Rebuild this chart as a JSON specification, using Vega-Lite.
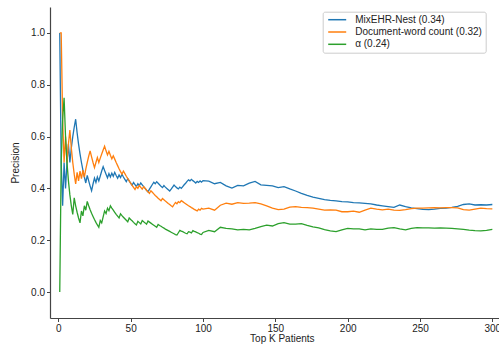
{
"$schema": "https://vega.github.io/schema/vega-lite/v6.json",
"width": 449, "height": 311,
"autosize": {"type": "none"},
"padding": {"left": 50, "top": 7, "right": 0, "bottom": 29},
"background": "white",
"data": {"values": [
{"k":1,"a":1,"b":1,"c":0},{"k":2,"a":0.5,"b":1,"c":0.5},{"k":3,"a":0.333,"b":0.667,"c":0.667},{"k":4,"a":0.5,"b":0.5,"c":0.75},{"k":5,"a":0.4,"b":0.6,"c":0.6},
{"k":6,"a":0.5,"b":0.5,"c":0.5},{"k":7,"a":0.571,"b":0.571,"c":0.429},{"k":8,"a":0.5,"b":0.625,"c":0.375},{"k":9,"a":0.556,"b":0.556,"c":0.333},{"k":10,"a":0.6,"b":0.5,"c":0.3},
{"k":11,"a":0.636,"b":0.455,"c":0.364},{"k":12,"a":0.667,"b":0.417,"c":0.333},{"k":13,"a":0.615,"b":0.462,"c":0.308},{"k":14,"a":0.571,"b":0.429,"c":0.286},{"k":15,"a":0.533,"b":0.467,"c":0.267},
{"k":16,"a":0.5,"b":0.438,"c":0.313},{"k":17,"a":0.471,"b":0.471,"c":0.294},{"k":18,"a":0.444,"b":0.444,"c":0.333},{"k":19,"a":0.421,"b":0.474,"c":0.316},{"k":20,"a":0.45,"b":0.5,"c":0.35},
{"k":21,"a":0.429,"b":0.524,"c":0.333},{"k":22,"a":0.409,"b":0.545,"c":0.318},{"k":23,"a":0.391,"b":0.522,"c":0.304},{"k":24,"a":0.417,"b":0.5,"c":0.292},{"k":25,"a":0.44,"b":0.48,"c":0.28},
{"k":26,"a":0.423,"b":0.5,"c":0.269},{"k":27,"a":0.444,"b":0.519,"c":0.259},{"k":28,"a":0.429,"b":0.5,"c":0.25},{"k":29,"a":0.448,"b":0.517,"c":0.276},{"k":30,"a":0.467,"b":0.533,"c":0.267},
{"k":31,"a":0.484,"b":0.548,"c":0.29},{"k":32,"a":0.469,"b":0.563,"c":0.313},{"k":33,"a":0.455,"b":0.545,"c":0.303},{"k":34,"a":0.441,"b":0.529,"c":0.324},{"k":35,"a":0.457,"b":0.543,"c":0.314},
{"k":36,"a":0.444,"b":0.528,"c":0.333},{"k":37,"a":0.459,"b":0.514,"c":0.324},{"k":38,"a":0.447,"b":0.526,"c":0.316},{"k":39,"a":0.462,"b":0.513,"c":0.308},{"k":40,"a":0.45,"b":0.5,"c":0.3},
{"k":41,"a":0.439,"b":0.488,"c":0.293},{"k":42,"a":0.452,"b":0.476,"c":0.286},{"k":43,"a":0.442,"b":0.465,"c":0.302},{"k":44,"a":0.455,"b":0.455,"c":0.295},{"k":45,"a":0.444,"b":0.467,"c":0.289},
{"k":46,"a":0.435,"b":0.457,"c":0.283},{"k":47,"a":0.426,"b":0.447,"c":0.277},{"k":48,"a":0.438,"b":0.438,"c":0.271},{"k":49,"a":0.429,"b":0.429,"c":0.286},{"k":50,"a":0.42,"b":0.42,"c":0.28},
{"k":51,"a":0.412,"b":0.412,"c":0.275},{"k":52,"a":0.423,"b":0.404,"c":0.269},{"k":53,"a":0.415,"b":0.396,"c":0.264},{"k":54,"a":0.407,"b":0.407,"c":0.259},{"k":55,"a":0.418,"b":0.4,"c":0.273},
{"k":56,"a":0.411,"b":0.411,"c":0.268},{"k":57,"a":0.421,"b":0.404,"c":0.263},{"k":58,"a":0.414,"b":0.397,"c":0.276},{"k":59,"a":0.407,"b":0.407,"c":0.271},{"k":60,"a":0.4,"b":0.4,"c":0.267},
{"k":61,"a":0.393,"b":0.393,"c":0.262},{"k":62,"a":0.387,"b":0.387,"c":0.274},{"k":63,"a":0.397,"b":0.381,"c":0.27},{"k":64,"a":0.406,"b":0.391,"c":0.266},{"k":65,"a":0.415,"b":0.385,"c":0.262},
{"k":66,"a":0.424,"b":0.379,"c":0.258},{"k":67,"a":0.418,"b":0.373,"c":0.254},{"k":68,"a":0.426,"b":0.368,"c":0.25},{"k":69,"a":0.42,"b":0.362,"c":0.261},{"k":70,"a":0.414,"b":0.357,"c":0.257},
{"k":71,"a":0.408,"b":0.352,"c":0.254},{"k":72,"a":0.403,"b":0.361,"c":0.25},{"k":73,"a":0.411,"b":0.356,"c":0.247},{"k":74,"a":0.405,"b":0.351,"c":0.243},{"k":75,"a":0.4,"b":0.347,"c":0.24},
{"k":76,"a":0.395,"b":0.342,"c":0.237},{"k":77,"a":0.39,"b":0.338,"c":0.234},{"k":78,"a":0.397,"b":0.333,"c":0.231},{"k":79,"a":0.405,"b":0.329,"c":0.228},{"k":80,"a":0.413,"b":0.338,"c":0.225},
{"k":81,"a":0.407,"b":0.346,"c":0.222},{"k":82,"a":0.402,"b":0.341,"c":0.22},{"k":83,"a":0.398,"b":0.349,"c":0.229},{"k":84,"a":0.405,"b":0.345,"c":0.238},{"k":85,"a":0.4,"b":0.353,"c":0.235},
{"k":86,"a":0.407,"b":0.349,"c":0.233},{"k":87,"a":0.414,"b":0.345,"c":0.23},{"k":88,"a":0.42,"b":0.341,"c":0.227},{"k":89,"a":0.427,"b":0.337,"c":0.225},{"k":90,"a":0.433,"b":0.333,"c":0.233},
{"k":91,"a":0.429,"b":0.33,"c":0.231},{"k":92,"a":0.435,"b":0.326,"c":0.228},{"k":93,"a":0.43,"b":0.323,"c":0.237},{"k":94,"a":0.426,"b":0.319,"c":0.234},{"k":95,"a":0.421,"b":0.316,"c":0.232},
{"k":96,"a":0.427,"b":0.313,"c":0.229},{"k":97,"a":0.423,"b":0.32,"c":0.227},{"k":98,"a":0.429,"b":0.316,"c":0.224},{"k":99,"a":0.424,"b":0.323,"c":0.222},{"k":100,"a":0.43,"b":0.32,"c":0.23},
{"k":104,"a":0.428,"b":0.324,"c":0.238},{"k":108,"a":0.418,"b":0.316,"c":0.233},{"k":112,"a":0.423,"b":0.335,"c":0.25},{"k":116,"a":0.41,"b":0.343,"c":0.246},{"k":120,"a":0.401,"b":0.339,"c":0.244},
{"k":124,"a":0.412,"b":0.345,"c":0.24},{"k":128,"a":0.41,"b":0.342,"c":0.242},{"k":132,"a":0.42,"b":0.343,"c":0.24},{"k":136,"a":0.427,"b":0.345,"c":0.246},{"k":140,"a":0.414,"b":0.34,"c":0.253},
{"k":144,"a":0.412,"b":0.333,"c":0.258},{"k":148,"a":0.41,"b":0.324,"c":0.255},{"k":152,"a":0.403,"b":0.318,"c":0.264},{"k":156,"a":0.407,"b":0.32,"c":0.268},{"k":160,"a":0.398,"b":0.328,"c":0.262},
{"k":164,"a":0.39,"b":0.33,"c":0.262},{"k":168,"a":0.381,"b":0.327,"c":0.264},{"k":172,"a":0.373,"b":0.326,"c":0.257},{"k":176,"a":0.366,"b":0.324,"c":0.252},{"k":180,"a":0.362,"b":0.32,"c":0.248},
{"k":184,"a":0.357,"b":0.316,"c":0.241},{"k":188,"a":0.354,"b":0.317,"c":0.236},{"k":192,"a":0.352,"b":0.316,"c":0.233},{"k":196,"a":0.349,"b":0.31,"c":0.24},{"k":200,"a":0.348,"b":0.31,"c":0.246},
{"k":204,"a":0.345,"b":0.312,"c":0.244},{"k":208,"a":0.344,"b":0.308,"c":0.244},{"k":212,"a":0.342,"b":0.316,"c":0.24},{"k":216,"a":0.34,"b":0.324,"c":0.244},{"k":220,"a":0.336,"b":0.32,"c":0.242},
{"k":224,"a":0.333,"b":0.317,"c":0.242},{"k":228,"a":0.33,"b":0.32,"c":0.247},{"k":232,"a":0.327,"b":0.316,"c":0.249},{"k":236,"a":0.336,"b":0.315,"c":0.244},{"k":240,"a":0.33,"b":0.318,"c":0.24},
{"k":244,"a":0.325,"b":0.322,"c":0.246},{"k":248,"a":0.322,"b":0.324,"c":0.249},{"k":252,"a":0.319,"b":0.324,"c":0.248},{"k":256,"a":0.318,"b":0.325,"c":0.248},{"k":260,"a":0.32,"b":0.326,"c":0.247},
{"k":264,"a":0.323,"b":0.325,"c":0.248},{"k":268,"a":0.324,"b":0.326,"c":0.247},{"k":272,"a":0.327,"b":0.326,"c":0.246},{"k":276,"a":0.331,"b":0.325,"c":0.244},{"k":280,"a":0.338,"b":0.318,"c":0.242},
{"k":284,"a":0.34,"b":0.316,"c":0.239},{"k":288,"a":0.336,"b":0.32,"c":0.237},{"k":292,"a":0.337,"b":0.324,"c":0.236},{"k":296,"a":0.336,"b":0.322,"c":0.238},{"k":300,"a":0.338,"b":0.321,"c":0.242}
]},
"transform": [{"fold": ["a", "b", "c"], "as": ["series", "p"]}],
"mark": {"type": "line", "strokeWidth": 1.3, "clip": true},
"encoding": {
  "x": {"field": "k", "type": "quantitative",
        "scale": {"domain": [-5.74, 304.6], "nice": false, "zero": false},
        "axis": {"values": [0, 50, 100, 150, 200, 250, 300], "title": "Top K Patients", "titleX": 231.8, "titlePadding": 0}},
  "y": {"field": "p", "type": "quantitative",
        "scale": {"domain": [-0.1, 1.1], "nice": false},
        "axis": {"values": [0, 0.2, 0.4, 0.6, 0.8, 1.0], "format": ".1f", "title": "Precision", "titlePadding": 10}},
  "color": {"field": "series", "type": "nominal",
        "scale": {"domain": ["a", "b", "c"], "range": ["#1f77b4", "#ff7f0e", "#2ca02c"]},
        "legend": {"title": null, "orient": "none", "legendX": 272.7, "legendY": 4.7,
                   "labelExpr": "datum.label == 'a' ? 'MixEHR-Nest (0.34)' : datum.label == 'b' ? 'Document-word count (0.32)' : 'α (0.24)'",
                   "symbolType": "M-3,0L3,0", "symbolSize": 36, "symbolStrokeWidth": 1.5, "symbolOffset": 6.5,
                   "labelOffset": 13, "rowPadding": 2.3, "padding": 3,
                   "labelFont": "Liberation Sans", "labelFontSize": 10, "labelColor": "#222",
                   "fillColor": "rgba(255,255,255,0.8)", "strokeColor": "#cccccc", "cornerRadius": 2}}
},
"config": {
  "view": {"stroke": null},
  "axis": {"grid": false, "domainColor": "#444", "domainWidth": 1.2, "tickColor": "#444", "tickSize": 3.5, "tickWidth": 1,
           "labelFont": "Liberation Sans", "labelFontSize": 10, "labelColor": "#222", "labelPadding": 2,
           "titleFont": "Liberation Sans", "titleFontSize": 10, "titleFontWeight": "normal", "titleColor": "#222"}
}
}
